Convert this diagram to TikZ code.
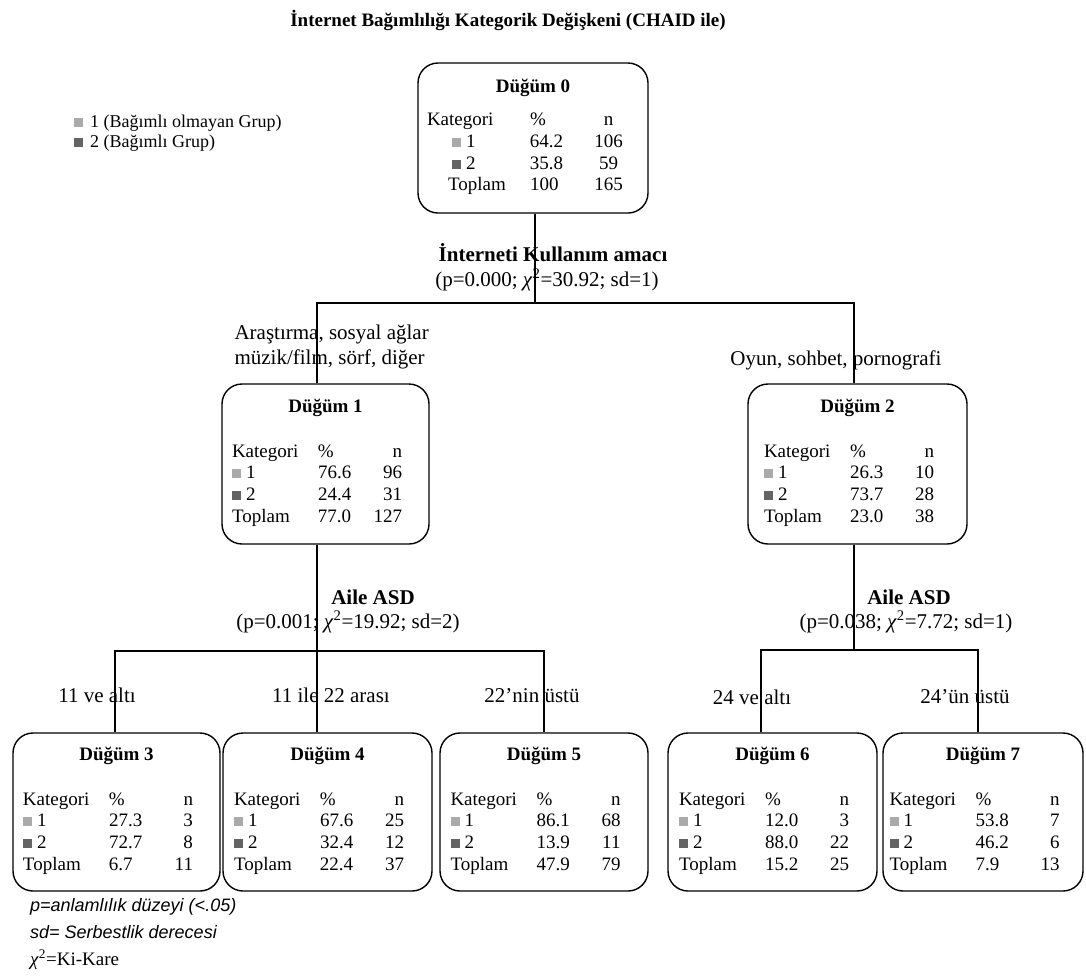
\documentclass[tikz,border=0pt]{standalone}
\usepackage{fontspec}
\usepackage{array}
\usepackage{xcolor}
\setmainfont{Liberation Serif}
\newfontfamily\dipnotfont{Liberation Sans}
\setlength{\tabcolsep}{0pt}
\definecolor{acikgri}{RGB}{170, 170, 170}
\definecolor{koyugri}{RGB}{100, 100, 100}
\newcommand{\kareA}{\textcolor{acikgri}{\rule[0.5pt]{9pt}{9pt}}}
\newcommand{\kareB}{\textcolor{koyugri}{\rule[0.5pt]{9pt}{9pt}}}
\newcommand{\dugumtablo}[7]{\textbf{Düğüm #1}\\[23pt]
\begin{tabular}[t]{@{}p{86pt}p{50pt}>{\raggedleft\arraybackslash}p{34pt}@{\hspace{17pt}}}
Kategori & \% & n\\
\kareA\hspace{5pt}1 & #2 & #3\\
\kareB\hspace{5pt}2 & #4 & #5\\
Toplam & #6 & #7
\end{tabular}}

\begin{document}
\begin{tikzpicture}[
    x=1pt, y=-1pt,
    dugum/.style={rectangle, rounded corners=20pt, draw=black, line width=1.4pt, align=center, inner sep=0pt, font=\fontsize{19}{21.7}\selectfont},
    etiket/.style={font=\fontsize{21}{25}\selectfont},
    ayrim/.style={font=\fontsize{21}{25}\selectfont\bfseries},
    baglanti/.style={line width=1.4pt, draw=black}
]
\useasboundingbox (0,0) rectangle (1086,975);

% Title and legend
\node (baslik) [font=\fontsize{19}{23}\selectfont\bfseries] at (508,20) {İnternet Bağımlılığı Kategorik Değişkeni (CHAID ile)};
\node (lejant1) [anchor=west, inner sep=0pt, font=\fontsize{18}{21}\selectfont] at (74,123) {\kareA\hspace{7pt}1 (Bağımlı olmayan Grup)};
\node (lejant2) [anchor=west, inner sep=0pt, font=\fontsize{18}{21}\selectfont] at (74,143) {\kareB\hspace{7pt}2 (Bağımlı Grup)};

% Nodes
\node (n0) [dugum, minimum width=230pt, minimum height=150pt] at (533,138) {\textbf{Düğüm 0}\\[12pt]
\begin{tabular}[t]{@{}p{103pt}p{59pt}>{\centering\arraybackslash}p{39pt}@{\hspace{11pt}}}
Kategori & \% & n\\
\hspace{25pt}\kareA\hspace{5pt}1 & 64.2 & 106\\
\hspace{25pt}\kareB\hspace{5pt}2 & 35.8 & 59\\
\hspace{21pt}Toplam & 100 & 165
\end{tabular}};
\node (n1) [dugum, minimum width=207pt, minimum height=160pt] at (325.5,464) {\dugumtablo{1}{76.6}{96}{24.4}{31}{77.0}{127}};
\node (n2) [dugum, minimum width=219pt, minimum height=160pt] at (857.5,464) {\dugumtablo{2}{26.3}{10}{73.7}{28}{23.0}{38}};
\node (n3) [dugum, minimum width=207pt, minimum height=158pt] at (116.5,812) {\dugumtablo{3}{27.3}{3}{72.7}{8}{6.7}{11}};
\node (n4) [dugum, minimum width=209pt, minimum height=158pt] at (327.5,812) {\dugumtablo{4}{67.6}{25}{32.4}{12}{22.4}{37}};
\node (n5) [dugum, minimum width=208pt, minimum height=158pt] at (544,812) {\dugumtablo{5}{86.1}{68}{13.9}{11}{47.9}{79}};
\node (n6) [dugum, minimum width=209pt, minimum height=158pt] at (772.5,812) {\dugumtablo{6}{12.0}{3}{88.0}{22}{15.2}{25}};
\node (n7) [dugum, minimum width=200pt, minimum height=158pt] at (983,812) {\dugumtablo{7}{53.8}{7}{46.2}{6}{7.9}{13}};

% Split variables
\node (s0) [ayrim] at (553,253) {İnterneti Kullanım amacı};
\node (p0) [etiket] at (547,280) {(p=0.000; \textit{χ}\textsuperscript{2}=30.92; sd=1)};
\node (s1) [ayrim] at (373,597) {Aile ASD};
\node (p1) [etiket] at (348,622) {(p=0.001; \textit{χ}\textsuperscript{2}=19.92; sd=2)};
\node (s2) [ayrim] at (909,597) {Aile ASD};
\node (p2) [etiket] at (906,622) {(p=0.038; \textit{χ}\textsuperscript{2}=7.72; sd=1)};

% Branch labels
\node (e1) [etiket, anchor=west, align=left] at (231,347) {Araştırma, sosyal ağlar\\müzik/film, sörf, diğer};
\node (e2) [etiket] at (836,360) {Oyun, sohbet, pornografi};
\node (e3) [etiket] at (97,695) {11 ve altı};
\node (e4) [etiket] at (331,695) {11 ile 22 arası};
\node (e5) [etiket] at (532,696) {22’nin üstü};
\node (e6) [etiket] at (752,697) {24 ve altı};
\node (e7) [etiket] at (965,697) {24’ün üstü};

% Connectors
\coordinate (d0) at (535,303);
\coordinate (d1) at (317,651);
\coordinate (d2) at (854,650);
\draw [baglanti] ([xshift=2pt]n0.south) -- (d0);
\draw [baglanti] ([xshift=-8.5pt]n1.north) |- (d0) -| ([xshift=-3.5pt]n2.north);
\draw [baglanti] ([xshift=-8.5pt]n1.south) -- (d1);
\draw [baglanti] ([xshift=-1.5pt]n3.north) |- (d1) -| (n5.north);
\draw [baglanti] (d1) -- ([xshift=-10.5pt]n4.north);
\draw [baglanti] ([xshift=-3.5pt]n2.south) -- (d2);
\draw [baglanti] ([xshift=-11.5pt]n6.north) |- (d2) -| ([xshift=-5pt]n7.north);

% Footnote
\node (dipnot) [anchor=north west, align=left, inner sep=0pt, font=\dipnotfont\itshape\fontsize{18}{27}\selectfont] at (30,898) {p=anlamlılık düzeyi (<.05)\\sd= Serbestlik derecesi\\\rmfamily\upshape\fontsize{19}{27}\selectfont\textit{χ}\textsuperscript{2}=Ki-Kare};

\end{tikzpicture}
\end{document}
